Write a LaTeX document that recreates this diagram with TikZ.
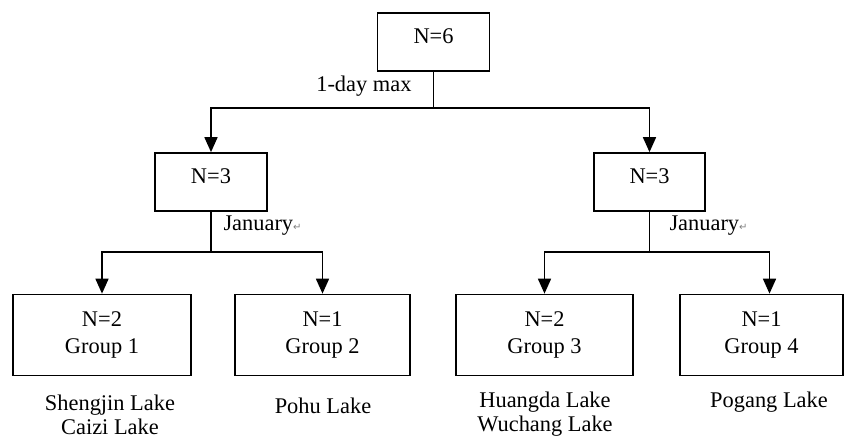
\documentclass[tikz,border=0pt]{standalone}
\usepackage{fontspec}
\setmainfont{Liberation Serif}
\newfontfamily\symfont{DejaVu Sans}
\usetikzlibrary{arrows.meta}
\tikzset{>={Triangle[width=6.5pt,length=7.5pt]}}
\newcommand{\retmark}{{\symfont\fontsize{5}{5}\selectfont\color{gray}↵}}

\begin{document}
\begin{tikzpicture}[x=.5pt, y=-.5pt, line width=.85pt,
    font=\fontsize{11.2}{13.5}\selectfont,
    nbox/.style={draw, minimum height=29pt, text height=8pt, text depth=6.5pt},
    gbox/.style={draw, minimum height=40.5pt, align=center},
    lake/.style={align=center, font=\fontsize{11.2}{12}\selectfont}]
    \useasboundingbox (0, 0) rectangle (845, 438);
    % boxes
    \node[nbox, minimum width=56pt] (top) at (433.5, 42) {N=6};
    \node[nbox, minimum width=56pt] (l3) at (211, 182) {N=3};
    \node[nbox, minimum width=55.5pt] (r3) at (649.5, 182) {N=3};
    \node[gbox, minimum width=89pt] (g1) at (102, 335) {N=2\\Group 1};
    \node[gbox, minimum width=87.5pt] (g2) at (322.5, 335) {N=1\\Group 2};
    \node[gbox, minimum width=88.5pt] (g3) at (544.5, 335) {N=2\\Group 3};
    \node[gbox, minimum width=81.5pt] (g4) at (761.5, 335) {N=1\\Group 4};
    % split labels
    \node[anchor=east] (c0) at (419, 86) {1-day max};
    \node[anchor=west] (c1) at (216, 226) {January\retmark};
    \node[anchor=west] (c2) at (662, 226) {January\retmark};
    % lakes
    \node[lake] (k1) at (110, 415) {Shengjin Lake\\Caizi Lake};
    \node[lake] (k2) at (323, 406) {Pohu Lake};
    \node[lake] (k3) at (545, 414) {Huangda Lake\\Wuchang Lake};
    \node[lake] (k4) at (769, 402) {Pogang Lake};
    % tree
    \coordinate (j0) at (433.5, 108);
    \coordinate (j1) at (211, 252);
    \coordinate (j2) at (649.5, 252);
    \draw (top) -- (j0);
    \draw[->] (j0) -| (l3);
    \draw[->] (j0) -| (r3);
    \draw (l3) -- (j1);
    \draw[->] (j1) -| (g1);
    \draw[->] (j1) -| (g2);
    \draw (r3) -- (j2);
    \draw[->] (j2) -| (g3);
    \draw[->] (j2) -| ([xshift=4pt]g4.north);
\end{tikzpicture}
\end{document}
